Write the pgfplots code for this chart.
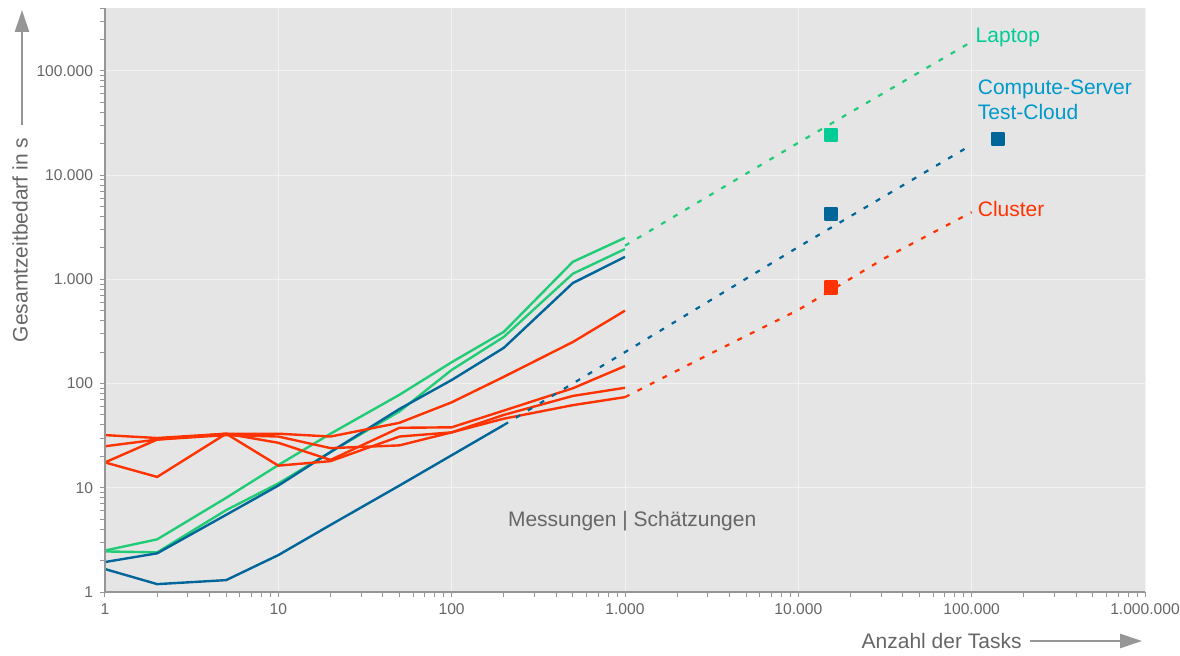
\documentclass[border=0pt]{standalone}
\usepackage{fontspec}
\setmainfont{Liberation Sans}
\usepackage{pgfplots}
\pgfplotsset{compat=1.18}
\usetikzlibrary{arrows.meta,calc}
\definecolor{cgreen}{RGB}{34,204,119}
\definecolor{cteal}{RGB}{0,204,150}
\definecolor{cblue}{RGB}{0,102,153}
\definecolor{cbluetext}{RGB}{0,153,204}
\definecolor{cred}{RGB}{255,51,0}
\definecolor{ctext}{RGB}{102,102,102}
\definecolor{cbg}{RGB}{229,229,229}
\definecolor{cgrid}{RGB}{242,242,242}
\definecolor{caxis}{RGB}{150,150,150}
\begin{document}
\begin{tikzpicture}
\begin{axis}[
  scale only axis, width=520pt, height=292pt,
  xmode=log, ymode=log, xmin=1, xmax=1e6, ymin=1, ymax=4e5,
  log ticks with fixed point,
  /pgf/number format/1000 sep={.},
  /pgf/number format/assume math mode=true,
  tick label style={font=\fontsize{7.8}{9}\selectfont, text=ctext},
  tick pos=left, tick align=outside,
  major tick length=2.5pt, minor tick length=2.5pt,
  tick style={caxis, line width=0.5pt},
  axis line style={draw=none},
  grid=major, major grid style={cgrid, line width=0.5pt},
  axis background/.style={fill=cbg},
  clip=false,
  every axis plot/.append style={line width=1.2pt, line join=round},
]
% Laptop (measured)
\addplot[cgreen, no markers] coordinates {(1,2.5)(2,3.2)(5,8)(10,16.5)(20,33)(50,78)(100,160)(200,313)(500,1470)(1000,2500)};
\addplot[cgreen, no markers] coordinates {(1,2.45)(2,2.4)(5,6.1)(10,11)(20,22)(50,54)(100,135)(200,280)(500,1130)(1000,1950)};
% Compute-Server / Test-Cloud (measured)
\addplot[cblue, no markers] coordinates {(1,1.94)(2,2.35)(5,5.5)(10,10.5)(20,22)(50,57)(100,108)(200,220)(500,920)(1000,1640)};
\addplot[cblue, no markers] coordinates {(1,1.66)(2,1.19)(5,1.3)(10,2.26)(20,4.4)(50,10.5)(100,20.5)(200,40)};
% Cluster (measured)
\addplot[cred, no markers] coordinates {(1,25)(2,29)(5,33)(10,33)(20,31)(50,42)(100,66)(200,116)(500,250)(1000,500)};
\addplot[cred, no markers] coordinates {(1,32)(2,30)(5,33)(10,27)(20,18.5)(50,37.6)(100,38)(200,55)(500,90)(1000,147)};
\addplot[cred, no markers] coordinates {(1,17.5)(2,29)(5,32)(10,31)(20,24)(50,25.5)(100,34)(200,50)(500,76)(1000,91)};
\addplot[cred, no markers] coordinates {(1,17.5)(2,12.7)(5,33)(10,16.3)(20,18)(50,31)(100,34)(200,46)(500,62)(1000,74)};
% Estimates (dashed)
\addplot[cgreen, no markers, line width=1.1pt, dash pattern=on 2.5pt off 4.5pt] coordinates {(1000,2100)(10000,20400)(100000,190000)};
\addplot[cblue, no markers, line width=1.1pt, dash pattern=on 2.5pt off 4.5pt] coordinates {(200,40)(1000,200)(10000,2040)(100000,19500)};
\addplot[cred, no markers, line width=1.1pt, dash pattern=on 2.5pt off 4.5pt] coordinates {(1000,74)(3162,196)(10000,508)(31623,1600)(100000,4400)};
% squares
\addplot[only marks, mark=square*, mark size=3pt, mark options={draw=cteal, fill=cteal}] coordinates {(15400,24300)};
\addplot[only marks, mark=square*, mark size=3pt, mark options={draw=cblue, fill=cblue}] coordinates {(15400,4240)(142000,22250)};
\addplot[only marks, mark=square*, mark size=3pt, mark options={draw=cred, fill=cred}] coordinates {(15400,830)};
% axis lines
\draw[caxis, line width=0.6pt] (rel axis cs:0,1) -- (rel axis cs:0,0) -- (rel axis cs:1,0);
% labels
\node[anchor=west, inner sep=0, text=cteal, font=\fontsize{10.5}{12}\selectfont] at (axis cs:1.05e5,2.1e5) {Laptop};
\node[anchor=west, inner sep=0, align=left, text=cbluetext, font=\fontsize{10.5}{12.5}\selectfont] at (axis cs:1.08e5,5.3e4) {Compute-Server\\Test-Cloud};
\node[anchor=west, inner sep=0, text=cred, font=\fontsize{10.5}{12}\selectfont] at (axis cs:1.08e5,4740) {Cluster};
\node[inner sep=0, text=ctext, font=\fontsize{10.5}{12}\selectfont] at (axis cs:1100,4.8) {Messungen | Schätzungen};
\coordinate (bl) at (rel axis cs:0,0);
\coordinate (tr) at (rel axis cs:1,1);
\end{axis}
\node[rotate=90, inner sep=0, text=ctext, font=\fontsize{10.5}{12}\selectfont] at ($(bl)+(-42.5pt,176pt)$) {Gesamtzeitbedarf in s};
\draw[caxis, line width=1.3pt, -{Triangle[length=11pt,width=7pt]}] ($(bl)+(-41.5pt,233.5pt)$) -- ($(bl)+(-41.5pt,291pt)$);
\node[anchor=east, inner sep=0, text=ctext, font=\fontsize{10.5}{12}\selectfont] at ($(bl)+(458.5pt,-24.5pt)$) {Anzahl der Tasks};
\draw[caxis, line width=1.3pt, -{Triangle[length=11pt,width=7pt]}] ($(bl)+(462.5pt,-24.5pt)$) -- ($(bl)+(518.5pt,-24.5pt)$);
\pgfresetboundingbox
\path[use as bounding box] ($(bl)+(-52.5pt,-31.5pt)$) rectangle ($(tr)+(17.5pt,4pt)$);
\end{tikzpicture}
\end{document}
